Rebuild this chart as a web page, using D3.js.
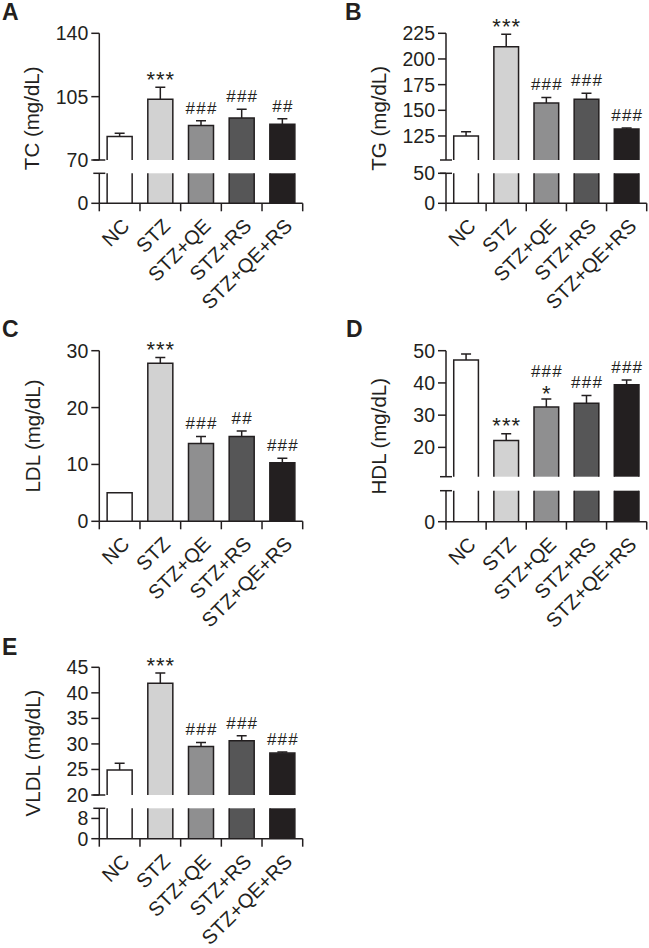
<!DOCTYPE html>
<html><head><meta charset="utf-8">
<script src="https://cdn.jsdelivr.net/npm/d3@7"></script>
<style>
body{margin:0;background:#fff}
svg{display:block}
text{font-family:"Liberation Sans",Arial,Helvetica,sans-serif;fill:#231f20}
</style>
</head><body><svg id="c" width="649" height="948"></svg>
<script>
// ---------- data ----------
const groups = ["NC","STZ","STZ+QE","STZ+RS","STZ+QE+RS"];

const tcMean = [83.0,103.5,89.0,93.2,89.7];
const tcErr  = [1.8,6.7,2.7,4.8,3.1];
const tcSig  = [[],["***"],["###"],["###"],["##"]];
const tcTicks = [0,70,105,140];

const tgMean = [125.0,212.0,157.0,160.7,131.8];
const tgErr  = [4.0,12.0,5.5,5.8,1.0];
const tgSig  = [[],["***"],["###"],["###"],["###"]];
const tgTicks = [0,50,125,150,175,200,225];

const ldlMean = [5.0,27.8,13.7,14.9,10.3];
const ldlErr  = [0.0,1.0,1.2,1.0,0.8];
const ldlSig  = [[],["***"],["###"],["##"],["###"]];
const ldlTicks = [0,10,20,30];

const hdlMean = [47.1,22.1,32.5,33.7,39.4];
const hdlErr  = [1.9,2.1,2.5,2.4,1.5];
const hdlSig  = [[],["***"],["*","###"],["###"],["###"]];
const hdlTicks = [0,20,30,40,50];

const vldlMean = [24.9,41.9,29.5,30.6,28.2];
const vldlErr  = [1.3,2.0,0.8,1.0,0.2];
const vldlSig  = [[],["***"],["###"],["###"],["###"]];
const vldlTicks = [0,8,20,25,30,35,40,45];

const fills = ["#ffffff","#d2d2d2","#8f8f90","#565657","#231f20"];

// ---------- layout ----------
const panels = [
  {letter:"A", lx:2, ly:20, x0:99.3, x1:302.7, title:"TC (mg/dL)", titleX:32,
   segs:[{domain:[70,140],range:[160,33.3]},{domain:[0,16],range:[203.3,173.3]}],
   mean:tcMean, err:tcErr, sig:tcSig, ticks:tcTicks},
  {letter:"B", lx:345, ly:20, x0:446, x1:646.7, title:"TG (mg/dL)", titleX:379,
   segs:[{domain:[101.6,225],range:[160,33.3]},{domain:[0,50],range:[203.3,173.3]}],
   mean:tgMean, err:tgErr, sig:tgSig, ticks:tgTicks},
  {letter:"C", lx:2, ly:337, x0:99.3, x1:302.7, title:"LDL (mg/dL)", titleX:32.5,
   segs:[{domain:[0,30],range:[521.3,350.7]}],
   mean:ldlMean, err:ldlErr, sig:ldlSig, ticks:ldlTicks},
  {letter:"D", lx:346, ly:337, x0:446, x1:646.7, title:"HDL (mg/dL)", titleX:379,
   segs:[{domain:[10.9,50],range:[476.7,350.7]},{domain:[0,9.6],range:[521.7,490.7]}],
   mean:hdlMean, err:hdlErr, sig:hdlSig, ticks:hdlTicks},
  {letter:"E", lx:2, ly:655, x0:99.3, x1:302.7, title:"VLDL (mg/dL)", titleX:32.5,
   segs:[{domain:[20,45],range:[795,667.3]},{domain:[0,12],range:[838.7,808.3]}],
   mean:vldlMean, err:vldlErr, sig:vldlSig, ticks:vldlTicks}
];

const svg = d3.select("#c");
svg.append("rect").attr("width",649).attr("height",948).attr("fill","#fff");
const INK = "#231f20";

panels.forEach(p => {
  const g = svg.append("g");
  const segs = p.segs.map(s => ({...s, scale: d3.scaleLinear().domain(s.domain).range(s.range)}));
  const top = segs[0];
  const bottomSeg = segs[segs.length-1];
  const axisY = bottomSeg.range[0];
  const x = d3.scaleBand().domain(groups).range([p.x0,p.x1]).paddingInner(0.385).paddingOuter(0.1925);
  const step = x.step(), bw = x.bandwidth();

  // bars
  groups.forEach((grp,i) => {
    const m = p.mean[i];
    const xl = x(grp), xr = xl + bw;
    segs.forEach((s,si) => {
      const yb = s.scale(s.domain[0]);
      const clipped = m > s.domain[1];
      const yt = clipped ? s.scale(s.domain[1]) : s.scale(m);
      g.append("rect").attr("x",xl).attr("y",yt).attr("width",bw).attr("height",Math.max(0,yb-yt))
        .attr("fill",fills[i]).attr("stroke","none");
      const path = clipped
        ? `M${xl},${yb}V${yt}M${xr},${yt}V${yb}`
        : `M${xl},${yb}V${yt}H${xr}V${yb}`;
      g.append("path").attr("d",path).attr("fill","none").attr("stroke",INK).attr("stroke-width",1.5);
    });
    // error bar (upper only)
    const ys = top.scale;
    const yTop = ys(m), yErr = ys(m + p.err[i]);
    const cx = x(grp) + bw/2;
    if (p.err[i] > 0) {
      g.append("path").attr("d",`M${cx},${yTop}V${yErr}M${cx-5},${yErr}H${cx+5}`)
        .attr("fill","none").attr("stroke",INK).attr("stroke-width",1.5);
    }
    // significance marks
    const stacked = p.sig[i].length > 1;
    p.sig[i].forEach((lab,li) => {
      const cy = stacked ? (yErr - 11 - li*17) : (yErr - 13);
      const isStar = lab[0] === "*";
      const fs = isStar ? 22 : 17;
      const ls = isStar ? 1 : 1.2;
      g.append("text").attr("text-anchor","middle").attr("x",cx + ls/2)
        .attr("y", isStar ? cy + 12.6 : cy + 5.8)
        .attr("font-size",fs).attr("letter-spacing",ls).text(lab);
    });
  });

  // y axis segments
  segs.forEach((s,si) => {
    g.append("line").attr("x1",p.x0).attr("x2",p.x0).attr("y1",s.range[0]).attr("y2",s.range[1])
      .attr("stroke",INK).attr("stroke-width",1.5);
    p.ticks.filter(v => v >= s.domain[0] && v <= s.domain[1]).forEach(v => {
      const y = s.scale(v);
      g.append("line").attr("x1",p.x0-8).attr("x2",p.x0).attr("y1",y).attr("y2",y)
        .attr("stroke",INK).attr("stroke-width",1.5);
      g.append("text").attr("x",p.x0-11).attr("y",y).attr("dy","0.36em")
        .attr("text-anchor","end").attr("font-size",19.5).text(v);
    });
  });
  // break marks
  if (segs.length > 1) {
    [segs[0].range[0], segs[1].range[1]].forEach(y => {
      g.append("line").attr("x1",p.x0-6).attr("x2",p.x0+6).attr("y1",y).attr("y2",y)
        .attr("stroke",INK).attr("stroke-width",1.5);
    });
  }

  // x axis
  g.append("line").attr("x1",p.x0).attr("x2",p.x1).attr("y1",axisY).attr("y2",axisY)
    .attr("stroke",INK).attr("stroke-width",1.5);
  const bounds = [p.x0].concat(groups.map(grp => x(grp) + bw + step*0.385/2));
  bounds.forEach(bx => {
    g.append("line").attr("x1",bx).attr("x2",bx).attr("y1",axisY).attr("y2",axisY+8)
      .attr("stroke",INK).attr("stroke-width",1.5);
  });
  groups.forEach(grp => {
    const cx = x(grp) + bw/2;
    g.append("text").attr("transform",`translate(${cx+11},${axisY+24}) rotate(-45)`)
      .attr("text-anchor","end").attr("font-size",20).text(grp);
  });

  // axis title
  const ty = (top.range[1] + axisY)/2;
  g.append("text").attr("transform",`translate(${p.titleX},${ty}) rotate(-90)`)
    .attr("text-anchor","middle").attr("dy","0.36em").attr("font-size",20.5).text(p.title);

  // panel letter
  g.append("text").attr("x",p.lx).attr("y",p.ly).attr("font-size",23).attr("font-weight","bold").text(p.letter);
});
</script>
</body></html>
